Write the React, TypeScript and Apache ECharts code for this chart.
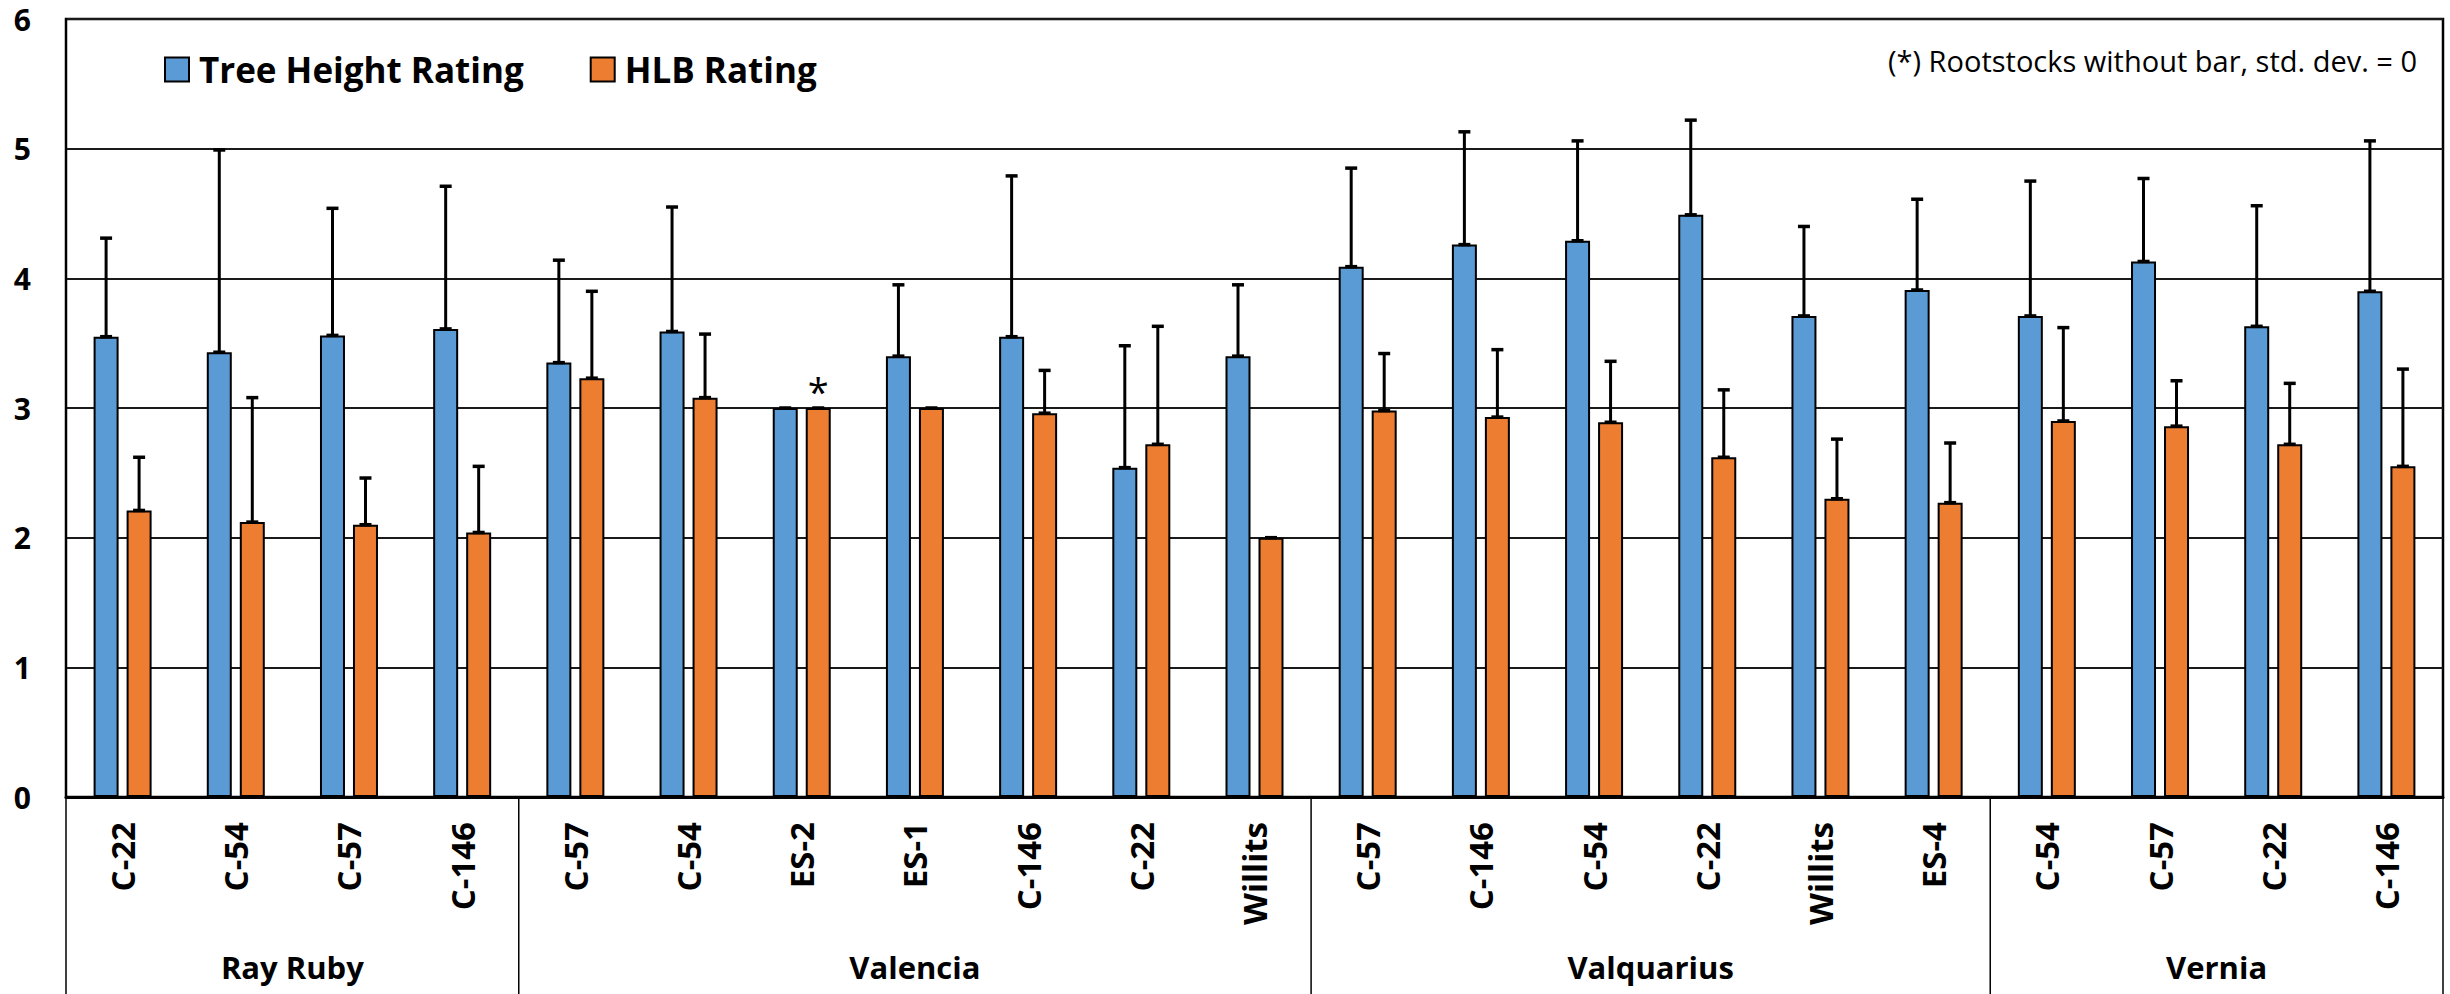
import React, { useEffect, useRef } from "react";
import * as echarts from "echarts";

const groups = ["Ray Ruby", "Valencia", "Valquarius", "Vernia"];
const groupSizes = [4, 7, 6, 4];
const rootstocks = [
  "C-22", "C-54", "C-57", "C-146",
  "C-57", "C-54", "ES-2", "ES-1", "C-146", "C-22", "Willits",
  "C-57", "C-146", "C-54", "C-22", "Willits", "ES-4",
  "C-54", "C-57", "C-22", "C-146",
];
const heightMeans = [3.55, 3.43, 3.56, 3.61, 3.35, 3.59, 3.0, 3.4, 3.55, 2.54, 3.4, 4.09, 4.26, 4.29, 4.49, 3.71, 3.91, 3.71, 4.13, 3.63, 3.9];
const heightSD = [0.76, 1.56, 0.98, 1.1, 0.79, 0.96, 0, 0.55, 1.24, 0.94, 0.55, 0.76, 0.87, 0.77, 0.73, 0.69, 0.7, 1.04, 0.64, 0.93, 1.16];
const hlbMeans = [2.21, 2.12, 2.1, 2.04, 3.23, 3.08, 3.0, 3.0, 2.96, 2.72, 2.0, 2.98, 2.93, 2.89, 2.62, 2.3, 2.27, 2.9, 2.86, 2.72, 2.55];
const hlbSD = [0.41, 0.96, 0.36, 0.51, 0.67, 0.49, 0, 0, 0.33, 0.91, 0, 0.44, 0.52, 0.47, 0.52, 0.46, 0.46, 0.72, 0.35, 0.47, 0.75];
const starredHlb = [6];
const yTicks = { min: 0, max: 6, interval: 1 };
const note = "(*) Rootstocks without bar, std. dev. = 0";

const FONT = "'Open Sans', sans-serif";
const BAR_W = 25;
const BAR_GAP = 8;
const BLUE = "#5B9BD5";
const ORANGE = "#ED7D31";

export default function App() {
  const ref = useRef<HTMLDivElement>(null);
  useEffect(() => {
    if (!ref.current) return;
    const chart = echarts.init(ref.current, null, { renderer: "svg" });

    const groupOf: string[] = [];
    groups.forEach((g, gi) => {
      for (let k = 0; k < groupSizes[gi]; k++) groupOf.push(g);
    });
    const catKeys = rootstocks.map((r, i) => `${groupOf[i]}|${r}|${i}`);

    const groupBounds: number[][] = [];
    let s = 0;
    groupSizes.forEach((n, gi) => {
      groupBounds.push([s, s + n, gi]);
      s += n;
    });

    const errRender = (offset: number) => (params: any, api: any) => {
      const i = api.value(0);
      const m = api.value(1);
      const sd = api.value(2);
      const base = api.coord([i, m]);
      const top = api.coord([i, m + sd]);
      const x = base[0] + offset;
      const children: any[] = [];
      const capStyle = { stroke: "#000", lineWidth: 3.5 };
      children.push({ type: "line", shape: { x1: x - 6, y1: base[1], x2: x + 6, y2: base[1] }, style: capStyle });
      if (sd > 0) {
        children.push({ type: "line", shape: { x1: x, y1: base[1], x2: x, y2: top[1] }, style: { stroke: "#000", lineWidth: 3 } });
        children.push({ type: "line", shape: { x1: x - 6, y1: top[1], x2: x + 6, y2: top[1] }, style: capStyle });
      }
      return { type: "group", children };
    };

    const half = (BAR_W + BAR_GAP) / 2;

    chart.setOption({
      animation: false,
      backgroundColor: "#fff",
      textStyle: { fontFamily: FONT },
      grid: { left: 66, right: 7, top: 19, bottom: 197, show: true, borderColor: "#000", borderWidth: 2.5, containLabel: false },
      legend: {
        left: 159,
        top: 47,
        itemWidth: 24,
        itemHeight: 24,
        itemGap: 66,
        icon: "rect",
        selectedMode: false,
        data: ["Tree Height Rating", "HLB Rating"],
        textStyle: { fontFamily: FONT, fontSize: 35, fontWeight: "bold", color: "#000", padding: [0, 0, 0, 5] },
      },
      graphic: [
        {
          type: "text",
          right: 33,
          top: 46,
          style: { text: note, fontFamily: FONT, fontSize: 29, fill: "#000" },
        },
      ],
      xAxis: [
        {
          type: "category",
          data: catKeys,
          axisLine: { lineStyle: { color: "#000", width: 3 } },
          axisTick: { show: false },
          axisLabel: {
            interval: 0,
            rotate: 90,
            margin: 25,
            fontFamily: FONT,
            fontSize: 33,
            fontWeight: "bold",
            color: "#000",
            formatter: (v: string) => v.split("|")[1],
          },
        },
        { type: "value", min: 0, max: rootstocks.length, show: false },
      ],
      yAxis: {
        type: "value",
        min: yTicks.min,
        max: yTicks.max,
        interval: yTicks.interval,
        axisLine: { show: true, lineStyle: { color: "#000", width: 2 } },
        axisTick: { show: false },
        splitLine: { lineStyle: { color: "#1a1a1a", width: 2 } },
        axisLabel: {
          margin: 35,
          fontFamily: FONT,
          fontSize: 30,
          lineHeight: 30,
          padding: [6, 0, 0, 0],
          fontWeight: "bold",
          color: "#000",
        },
      },
      series: [
        {
          name: "Tree Height Rating",
          type: "bar",
          barWidth: BAR_W,
          barGap: `${(BAR_GAP / BAR_W) * 100}%`,
          itemStyle: { color: BLUE, borderColor: "#000", borderWidth: 2 },
          data: heightMeans,
        },
        {
          name: "HLB Rating",
          type: "bar",
          barWidth: BAR_W,
          barGap: `${(BAR_GAP / BAR_W) * 100}%`,
          itemStyle: { color: ORANGE, borderColor: "#000", borderWidth: 2 },
          data: hlbMeans.map((v, i) =>
            starredHlb.includes(i)
              ? { value: v, label: { show: true, position: "top", distance: -2, formatter: "*", fontFamily: FONT, fontSize: 38, color: "#000" } }
              : v
          ),
        },
        {
          type: "custom",
          name: "heightErr",
          z: 5,
          renderItem: errRender(-half),
          data: heightMeans.map((m, i) => [i, m, heightSD[i]]),
          silent: true,
        },
        {
          type: "custom",
          name: "hlbErr",
          z: 5,
          renderItem: errRender(half),
          data: hlbMeans.map((m, i) => [i, m, hlbSD[i]]),
          silent: true,
        },
        {
          type: "custom",
          name: "groups",
          xAxisIndex: 1,
          yAxisIndex: 0,
          clip: false,
          silent: true,
          renderItem: (params: any, api: any) => {
            const st = api.value(0);
            const en = api.value(1);
            const gi = api.value(2);
            const p0 = api.coord([st, 0]);
            const p1 = api.coord([en, 0]);
            const bottom = 994;
            const children: any[] = [
              { type: "line", shape: { x1: p0[0], y1: p0[1], x2: p0[0], y2: bottom }, style: { stroke: "#000", lineWidth: 1.5 } },
              {
                type: "text",
                style: {
                  text: groups[gi],
                  x: (p0[0] + p1[0]) / 2,
                  y: p0[1] + 170,
                  align: "center",
                  verticalAlign: "middle",
                  fontFamily: FONT,
                  fontSize: 31,
                  fontWeight: "bold",
                  fill: "#000",
                },
              },
            ];
            if (gi === groups.length - 1) {
              children.push({ type: "line", shape: { x1: p1[0], y1: p1[1], x2: p1[0], y2: bottom }, style: { stroke: "#000", lineWidth: 1.5 } });
            }
            return { type: "group", children };
          },
          data: groupBounds,
        },
      ],
    });
    return () => chart.dispose();
  }, []);
  return <div ref={ref} style={{ position: "absolute", left: 0, top: 0, width: 2450, height: 994 }} />;
}
